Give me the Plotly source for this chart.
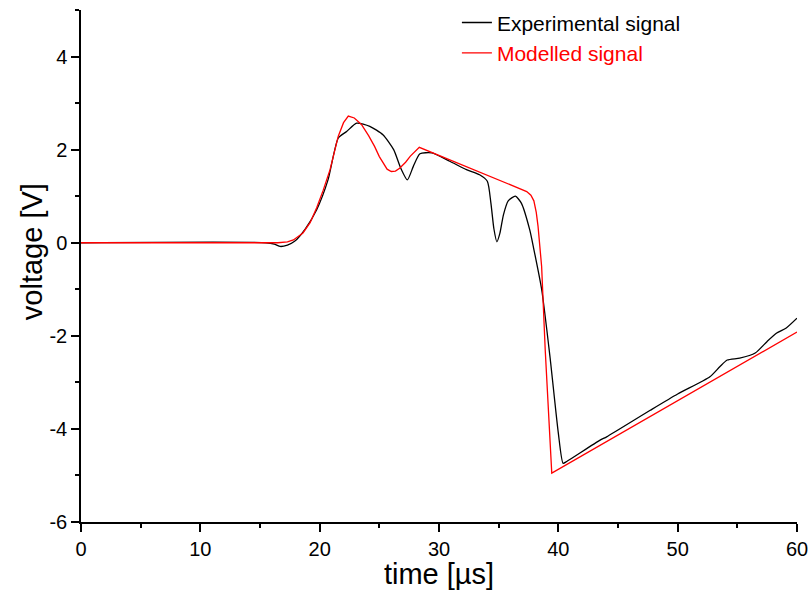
import plotly.graph_objects as go

# Experimental signal: time [µs], voltage [V]
exp_t = [0, 15.5, 16.2, 16.7, 17.3, 17.9, 18.8, 19.75, 20.7, 21.56, 22.26, 23.1,
         24.2, 25.3, 26.2, 26.8, 27.35, 27.85, 28.4, 29.4, 30.9, 32.3, 33.4, 34.05,
         34.35, 34.6, 34.85, 35.1, 35.4, 35.8, 36.4, 36.9, 37.6, 37.9, 38.6, 39.3,
         40.0, 40.4, 40.7, 43.5, 44.05, 47.7, 50.0, 52.7, 53.55, 54.16, 55.2, 56.5,
         57.5, 58.3, 59.1, 60.0]
exp_v = [0, 0, -0.03, -0.08, -0.05, 0.03, 0.3, 0.71, 1.35, 2.25, 2.39, 2.57,
         2.5, 2.32, 2.0, 1.6, 1.35, 1.64, 1.91, 1.93, 1.75, 1.57, 1.46, 1.32,
         0.85, 0.3, 0.02, 0.2, 0.6, 0.9, 1.0, 0.85, 0.28, -0.08, -1.0, -2.45,
         -4.09, -4.74, -4.7, -4.24, -4.17, -3.6, -3.25, -2.88, -2.66, -2.52, -2.48, -2.37,
         -2.12, -1.94, -1.83, -1.62]

# Modelled signal
mod_t = [0, 16.5, 17.3, 17.8, 18.6, 19.2, 19.75, 20.3, 20.87, 21.56, 22.0, 22.4,
         22.9, 23.5, 24.1, 24.6, 25.0, 25.3, 25.65, 26.0, 26.35, 26.7, 27.2, 27.6,
         28.0, 28.35, 37.35, 37.7, 37.95, 38.15, 38.3, 38.45, 38.6, 38.9, 39.2,
         39.45, 60.0]
mod_v = [0, 0, 0.02, 0.06, 0.21, 0.43, 0.75, 1.13, 1.57, 2.29, 2.58, 2.72,
         2.68, 2.54, 2.3, 2.07, 1.85, 1.71, 1.58, 1.53, 1.54, 1.6, 1.73, 1.86,
         1.97, 2.05, 1.1, 1.02, 0.9, 0.65, 0.35, -0.05, -0.51, -2.3, -3.9,
         -4.95, -1.92]

x_ticks = [0, 10, 20, 30, 40, 50, 60]
y_ticks = [-6, -4, -2, 0, 2, 4]
y_tick_labels = ["-6", "-4", "-2", "0", "2", "4"]

font_family = "Liberation Sans, Arial, sans-serif"

fig = go.Figure()
fig.add_trace(go.Scatter(
    x=exp_t, y=exp_v, mode="lines", name="Experimental signal",
    line=dict(color="black", width=1.3, shape="spline", smoothing=0.6),
))
fig.add_trace(go.Scatter(
    x=mod_t, y=mod_v, mode="lines",
    name="<span style='color:#ff0000'>Modelled signal</span>",
    line=dict(color="#ff0000", width=1.3),
))

axis_common = dict(
    showgrid=False, zeroline=False, showline=True, linecolor="black", linewidth=1.5,
    ticks="outside", ticklen=8, tickwidth=1.5, tickcolor="black",
    tickfont=dict(family=font_family, size=20, color="black"),
    mirror=False, automargin=False,
)

fig.update_layout(
    width=812, height=590,
    margin=dict(l=81, r=15, t=10, b=68, autoexpand=False),
    paper_bgcolor="white", plot_bgcolor="white",
    font=dict(family=font_family, color="black"),
    xaxis=dict(
        range=[0, 60], tickvals=x_ticks,
        minor=dict(dtick=5, tick0=0, ticks="outside", ticklen=4, tickwidth=1.5, tickcolor="black"),
        title=dict(text="time [µs]", font=dict(family=font_family, size=29), standoff=0),
        **axis_common,
    ),
    yaxis=dict(
        range=[-6, 5], tickvals=y_ticks, ticktext=y_tick_labels,
        minor=dict(dtick=1, tick0=0, ticks="outside", ticklen=4, tickwidth=1.5, tickcolor="black"),
        **axis_common,
    ),
    legend=dict(
        x=0.525, y=0.996, yref="container", xanchor="left", yanchor="top",
        bgcolor="rgba(0,0,0,0)", borderwidth=0,
        font=dict(family=font_family, size=21, color="black"),
        itemwidth=30, tracegroupgap=0,
    ),
    annotations=[dict(
        text="voltage [V]", textangle=-90, showarrow=False,
        xref="paper", yref="paper", x=0, y=0.527,
        xanchor="center", yanchor="middle", xshift=-49,
        font=dict(family=font_family, size=29, color="black"),
    )],
    showlegend=True,
)

fig.write_html("out.html")
